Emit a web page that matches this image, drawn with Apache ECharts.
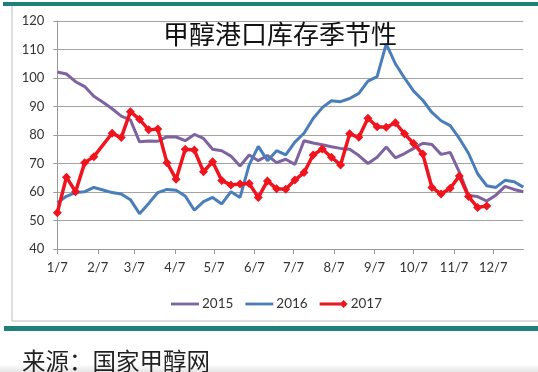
<!DOCTYPE html>
<html><head><meta charset="utf-8">
<script src="https://cdn.jsdelivr.net/npm/echarts@6/dist/echarts.min.js"></script>
<style>html,body{margin:0;padding:0;background:#fff;}#c{width:538px;height:372px;}</style>
</head><body><div id="c"></div>
<script>
// ---- data ----
const chartTitle = '甲醇港口库存季节性';
const sourceText = '来源：国家甲醇网';
const tickLabels = ['1/7','2/7','3/7','4/7','5/7','6/7','7/7','8/7','9/7','10/7','11/7','12/7'];
const startDate = '1/7';
const endDate = '12/30';
const stepDays = 7;
const yTickLabels = [40, 50, 60, 70, 80, 90, 100, 110, 120];
const seriesNames = ['2015', '2016', '2017'];
const values2015 = [102.1, 101.4, 98.7, 97.0, 93.6, 91.5, 89.2, 86.6, 85.3, 77.6,
  77.9, 77.8, 79.4, 79.3, 78.0, 80.2, 78.8, 75.0, 74.5, 72.6,
  69.1, 73.0, 71.0, 72.8, 70.3, 71.5, 69.7, 78.0, 77.2, 76.6,
  75.9, 75.3, 75.0, 72.8, 70.0, 72.2, 75.8, 72.0, 73.5, 75.3,
  77.1, 76.7, 73.2, 73.9, 67.0, 58.8, 58.4, 56.8, 58.9, 62.0,
  60.9, 60.1];
const values2016 = [56.2, 58.5, 59.8, 60.1, 61.6, 60.7, 59.8, 59.3, 57.3, 52.4,
  56.0, 59.8, 60.9, 60.6, 58.6, 53.6, 56.6, 58.1, 55.8, 60.1,
  58.1, 69.5, 76.0, 71.0, 74.5, 73.0, 77.5, 80.6, 85.8, 89.6,
  92.0, 91.7, 92.8, 94.6, 98.9, 100.5, 112.0, 105.0, 100.0, 95.4,
  92.2, 87.9, 85.0, 83.3, 78.8, 73.6, 66.4, 62.2, 61.6, 64.1,
  63.6, 61.7];
const values2017 = [52.7, 65.2, 60.1, 70.3, 72.4, null, 80.6, 79.1, 88.2, 85.5,
  81.8, 82.1, 70.3, 64.5, 75.0, 74.7, 67.1, 70.6, 64.0, 62.5,
  62.8, 63.0, 58.1, 63.9, 61.1, 61.0, 64.2, 66.8, 73.0, 75.1,
  72.2, 69.5, 80.4, 79.2, 85.9, 82.9, 82.7, 84.3, 80.4, 77.0,
  73.3, 61.6, 59.3, 61.3, 65.6, 58.4, 54.6, 55.1];

// ---- helpers ----
function dayOf(lbl) {
  const p = lbl.split('/').map(Number);
  const s = startDate.split('/').map(Number);
  return Math.round((Date.UTC(2017, p[0] - 1, p[1]) - Date.UTC(2017, s[0] - 1, s[1])) / 864e5);
}
const tickDays = tickLabels.map(dayOf);
const dayToLabel = {};
tickLabels.forEach((l, i) => { dayToLabel[tickDays[i]] = l; });
const toPoints = vals => vals.map((v, i) => [i * stepDays, v]);

const FONT = 'Lato, "Liberation Sans", sans-serif';
const CJK = '"Noto Sans CJK SC", sans-serif';
const colors = ['#7F63A1', '#4A7EBB', '#F0141E'];

const chart = echarts.init(document.getElementById('c'), null, {renderer: 'canvas'});
chart.setOption({
  animation: false,
  backgroundColor: '#fff',
  color: colors,
  title: {
    text: chartTitle, left: 158, top: 16,
    textStyle: {fontFamily: CJK, fontSize: 26, fontWeight: 'normal', color: '#111'}
  },
  grid: {left: 57.3, right: 14.7, top: 21, bottom: 123, containLabel: false},
  legend: {
    left: 166, top: 292, itemWidth: 28, itemHeight: 12, itemGap: 12,
    textStyle: {fontFamily: FONT, fontSize: 13.5, color: '#333', padding: [0, 0, 0, -2]},
    data: [
      {name: '2015', icon: 'path://M0,4.6L28,4.6L28,7.4L0,7.4Z'},
      {name: '2016', icon: 'path://M0,4.6L28,4.6L28,7.4L0,7.4Z'},
      {name: '2017', icon: 'path://M0,4.4L26,4.4L26,7.6L0,7.6Z M26,1.6L30.4,6L26,10.4L21.6,6Z'}
    ]
  },
  xAxis: {
    type: 'value', min: 0, max: dayOf(endDate),
    axisLine: {show: true, lineStyle: {color: '#9a9a9a', width: 1}},
    axisTick: {show: true, customValues: tickDays, length: 5, lineStyle: {color: '#9a9a9a'}},
    axisLabel: {customValues: tickDays, margin: 12, fontFamily: FONT, fontSize: 13, color: '#333',
      formatter: v => dayToLabel[v] || ''},
    splitLine: {show: false}
  },
  yAxis: {
    type: 'value', min: yTickLabels[0], max: yTickLabels[yTickLabels.length - 1],
    interval: yTickLabels[1] - yTickLabels[0],
    axisLine: {show: true, lineStyle: {color: '#9a9a9a', width: 1}},
    axisTick: {show: true, length: 4, lineStyle: {color: '#9a9a9a'}},
    axisLabel: {margin: 13, fontFamily: FONT, fontSize: 13, color: '#333'},
    splitLine: {show: true, lineStyle: {color: '#a3a3a3', width: 1}}
  },
  series: [
    {name: seriesNames[0], type: 'line', data: toPoints(values2015), symbol: 'none',
     lineStyle: {width: 3, color: colors[0]}, itemStyle: {color: colors[0]}},
    {name: seriesNames[1], type: 'line', data: toPoints(values2016), symbol: 'none',
     lineStyle: {width: 3, color: colors[1]}, itemStyle: {color: colors[1]}},
    {name: seriesNames[2], type: 'line', data: toPoints(values2017), connectNulls: true,
     symbol: 'diamond', symbolSize: 9, showSymbol: true,
     lineStyle: {width: 3.5, color: colors[2]}, itemStyle: {color: colors[2]}}
  ],
  graphic: [
    {type: 'rect', shape: {x: 12, y: 5, width: 540, height: 316}, style: {fill: 'none', stroke: '#bcbcbc', lineWidth: 1}, z: -1},
    {type: 'rect', shape: {x: 3, y: 2, width: 540, height: 4}, style: {fill: '#1E8079'}},
    {type: 'rect', shape: {x: 4, y: 326, width: 540, height: 5}, style: {fill: '#1E8079'}},
    {type: 'rect', shape: {x: 0, y: 364, width: 538, height: 8},
     style: {fill: new echarts.graphic.LinearGradient(0, 0, 0, 1, [{offset: 0, color: '#ffffff'}, {offset: 1, color: '#e6e6e6'}])}, z: -2},
    {type: 'text', left: 22, top: 349, style: {text: sourceText, font: '23.5px ' + CJK, fill: '#222'}}
  ]
});
</script></body></html>
